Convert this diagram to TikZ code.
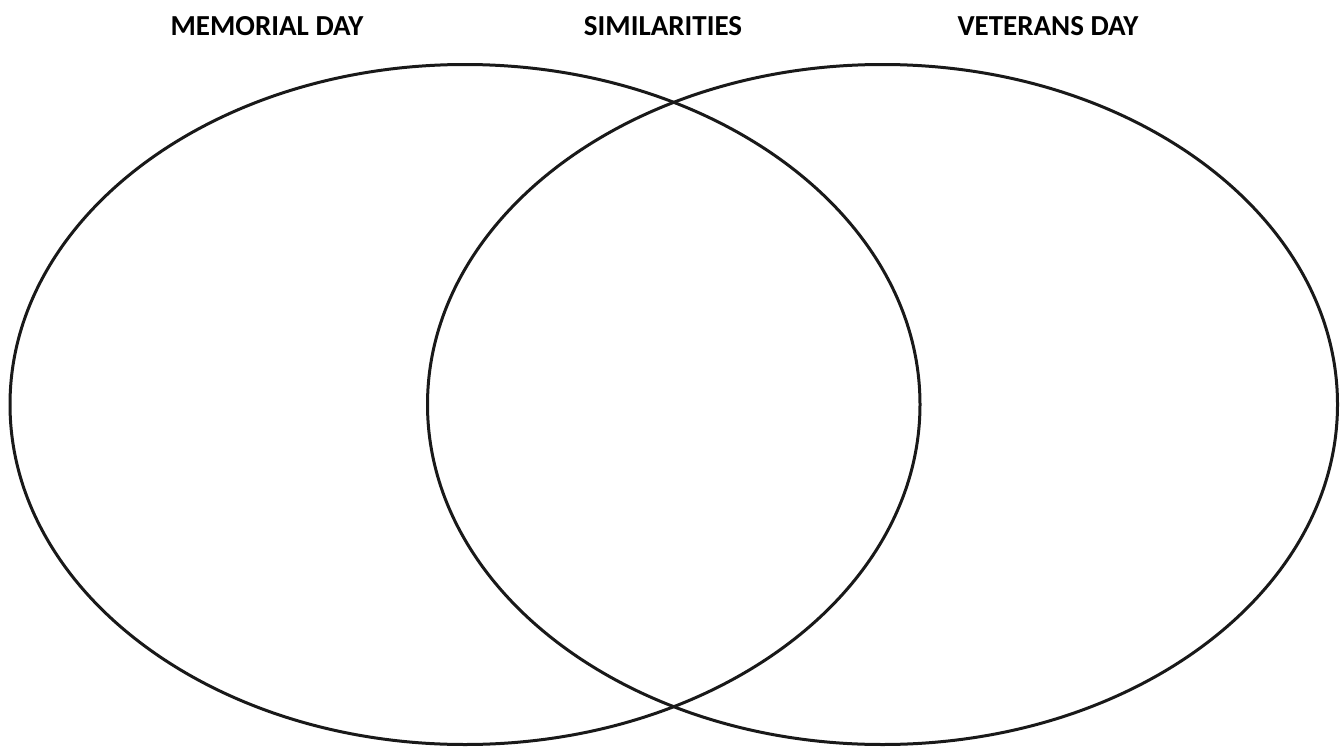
\documentclass[tikz,border=0pt]{standalone}
\usepackage{fontspec}
\setmainfont{Carlito}
\begin{document}
\begin{tikzpicture}[x=1pt,y=-1pt,
  ring/.style={draw=black!90,line width=3pt},
  head/.style={anchor=base,font=\bfseries\fontsize{29}{34}\selectfont,inner sep=0pt}]
\useasboundingbox (0,0) rectangle (1341,747);
\draw[ring] (465,404.5) ellipse [x radius=455, y radius=340];
\draw[ring] (882.5,404.5) ellipse [x radius=455, y radius=340];
\node[head] (mem) at (267,35.5) {MEMORIAL DAY};
\node[head] (sim) at (663,35.5) {SIMILARITIES};
\node[head] (vet) at (1048,35.5) {VETERANS DAY};
\end{tikzpicture}
\end{document}
